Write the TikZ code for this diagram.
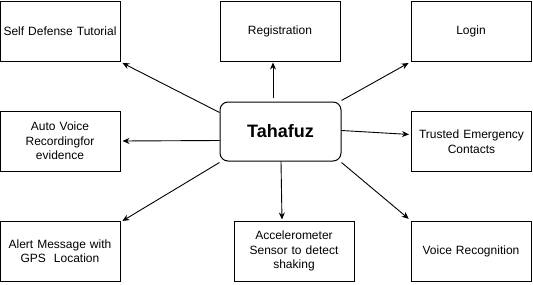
\documentclass[tikz,border=0pt]{standalone}
\usepackage{fontspec}
\setmainfont{Liberation Sans}
\usetikzlibrary{arrows.meta,calc}

\tikzset{
  feature/.style={draw, line width=1pt, minimum width=120pt, minimum height=60pt,
    align=center, text width=119pt, inner sep=0pt,
    font=\fontsize{12}{14.5}\selectfont},
  hub/.style={draw, line width=1pt, rounded corners=8pt, minimum width=121pt,
    minimum height=59pt, font=\fontsize{18}{20}\selectfont\bfseries},
  link/.style={line width=0.9pt, -{Stealth[length=7pt,width=6pt]}, shorten >=1pt}
}

\begin{document}
\hyphenpenalty=10000
\tolerance=10000
\begin{tikzpicture}[x=1pt,y=-1pt]
  \useasboundingbox (0,0) rectangle (533,284);

  % central node
  \node[hub] (t) at (280.5,131.5) {Tahafuz};

  % feature boxes
  \node[feature] (sd)  at (60,31)   {Self Defense Tutorial};
  \node[feature] (reg) at (280,31)  {Registration};
  \node[feature] (log) at (471,31)  {Login};
  \node[feature] (av)  at (60,141)  {Auto Voice\\Recordingfor\\evidence};
  \node[feature] (tr)  at (471.5,141.5) {Trusted Emergency\\Contacts};
  \node[feature] (al)  at (60,251)  {Alert Message with\\GPS\ \ Location};
  \node[feature] (acc) at (294,251) {Accelerometer\\Sensor to detect\\shaking};
  \node[feature] (vr)  at (471,251) {Voice Recognition};

  % connectors from the hub
  \draw[link] ($(t.north west)+(0,11)$) -- ($(sd.south east)+(1,1)$);
  \draw[link] ($(t.north)+(-7.5,-4)$) -- ($(reg.south)+(-7,0)$);
  \draw[link] ($(t.north east)+(0,-1)$) -- ($(log.south west)+(-1,1)$);
  \draw[link] ($(t.west)+(0,9)$) -- ($(av.east)+(1,0)$);
  \draw[link] ($(t.east)+(0,-1)$) -- ($(tr.west)+(-1,-7)$);
  \draw[link] ($(t.south west)+(0,1)$) -- ($(al.north east)+(1,1)$);
  \draw[link] ($(t.south)+(0.5,0)$) -- ($(acc.north)+(-12,0)$);
  \draw[link] ($(t.south east)+(0,1)$) -- ($(vr.north west)+(-1,-1)$);
\end{tikzpicture}
\end{document}
